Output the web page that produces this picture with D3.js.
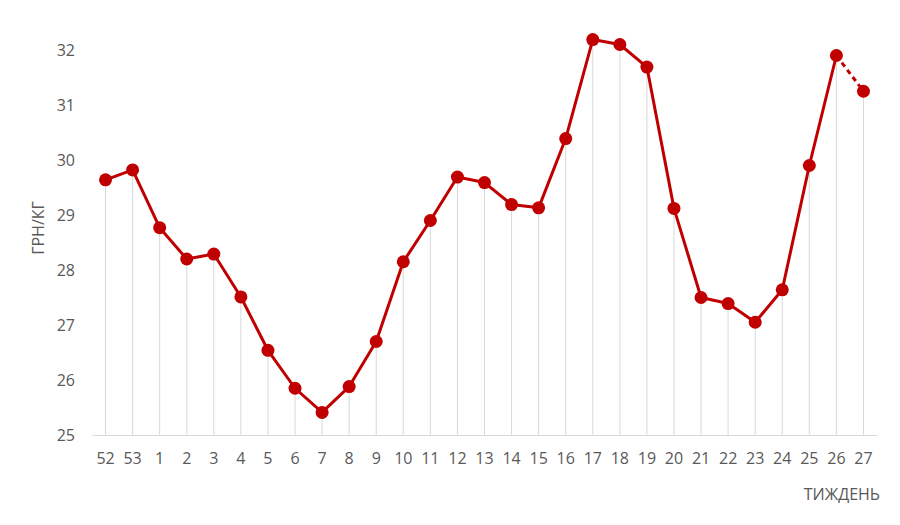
<!DOCTYPE html>
<html><head><meta charset="utf-8">
<script src="https://cdn.jsdelivr.net/npm/d3@7/dist/d3.min.js"></script>
<style>body{margin:0;background:#fff}svg{display:block}text{font-family:"Open Sans","Liberation Sans",sans-serif;fill:#595959}</style>
</head><body><div id="chart"></div>
<script>
const weeks = ["52","53","1","2","3","4","5","6","7","8","9","10","11","12","13","14","15","16","17","18","19","20","21","22","23","24","25","26","27"];
const prices = [29.64,29.82,28.77,28.20,28.29,27.51,26.54,25.85,25.41,25.88,26.70,28.15,28.90,29.69,29.59,29.19,29.13,30.39,32.19,32.10,31.69,29.12,27.50,27.39,27.05,27.64,29.90,31.90,31.25];
const yTicks = [25,26,27,28,29,30,31,32];
const yLabel = "ГРН/КГ";
const xLabel = "ТИЖДЕНЬ";

const W=900,H=525;
const svg=d3.select("#chart").append("svg").attr("width",W).attr("height",H);
const x=d3.scaleBand().domain(weeks).range([92,877]);
const y=d3.scaleLinear().domain([25,32]).range([435,50]);
const cx=d=>x(d)+x.bandwidth()/2;
const data=weeks.map((w,i)=>({w,v:prices[i]}));

// drop lines
svg.append("g").selectAll("line").data(data).join("line")
 .attr("x1",d=>cx(d.w)).attr("x2",d=>cx(d.w))
 .attr("y1",d=>y(d.v)).attr("y2",435)
 .attr("stroke","#d9d9d9").attr("stroke-width",1);

// x axis
const xa=svg.append("g").attr("transform","translate(0,435)").call(d3.axisBottom(x).tickSize(0).tickPadding(18));
xa.select(".domain").attr("stroke","#d9d9d9");
xa.selectAll("text").style("font-size","16px").attr("fill","#595959");

// y axis
const ya=svg.append("g").attr("transform","translate(75,0)").call(d3.axisLeft(y).tickValues(yTicks).tickFormat(d3.format("d")).tickSize(0).tickPadding(0));
ya.select(".domain").remove();
ya.selectAll("text").style("font-size","16px").attr("fill","#595959");

// line
const line=d3.line().x(d=>cx(d.w)).y(d=>y(d.v));
svg.append("path").datum(data.slice(0,data.length-1)).attr("d",line)
 .attr("fill","none").attr("stroke","#c00000").attr("stroke-width",3).attr("stroke-linejoin","round");
svg.append("path").datum(data.slice(data.length-2)).attr("d",line)
 .attr("fill","none").attr("stroke","#c00000").attr("stroke-width",3).attr("stroke-dasharray","5,4");

svg.append("g").selectAll("circle").data(data).join("circle")
 .attr("cx",d=>cx(d.w)).attr("cy",d=>y(d.v)).attr("r",6.5).attr("fill","#c00000");

svg.append("text").attr("transform","translate(44,228) rotate(-90)").attr("text-anchor","middle")
 .style("font-size","16px").text(yLabel);
svg.append("text").attr("x",880).attr("y",500).attr("text-anchor","end")
 .style("font-size","16px").text(xLabel);
</script></body></html>
